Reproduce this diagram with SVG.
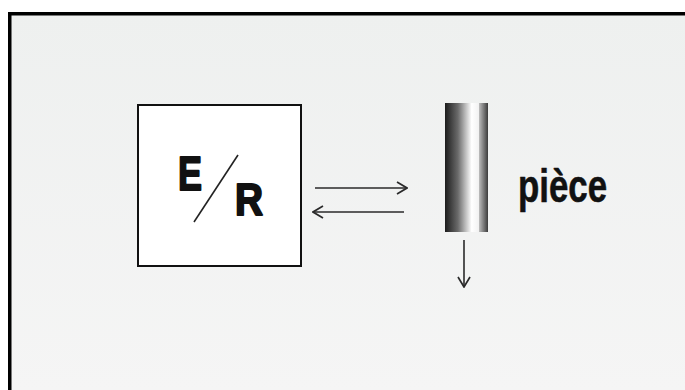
<svg xmlns="http://www.w3.org/2000/svg" width="685" height="390" viewBox="0 0 685 390">
  <defs>
    <linearGradient id="bg" x1="0" y1="0" x2="0" y2="1">
      <stop offset="0" stop-color="#eef0ef"/>
      <stop offset="1" stop-color="#f5f5f5"/>
    </linearGradient>
    <linearGradient id="bar" x1="0" y1="0" x2="1" y2="0">
      <stop offset="0" stop-color="#1c1c1c"/>
      <stop offset="0.3" stop-color="#6a6a6a"/>
      <stop offset="0.62" stop-color="#ffffff"/>
      <stop offset="0.78" stop-color="#f2f2f2"/>
      <stop offset="0.8" stop-color="#b8b8b8"/>
      <stop offset="1" stop-color="#3c3c3c"/>
    </linearGradient>
    <marker id="arr" viewBox="0 0 12 14" refX="11" refY="7" markerWidth="12" markerHeight="14" markerUnits="userSpaceOnUse" orient="auto">
      <path d="M1,1 L11,7 L1,13" fill="none" stroke="#2a2a2a" stroke-width="1.7"/>
    </marker>
  </defs>
  <style>
    .lbl { font-family: "Liberation Sans", Arial, sans-serif; font-weight: bold; fill: #111; stroke: #111; stroke-linejoin: round; }
    .conn { stroke: #2a2a2a; stroke-width: 1.6; fill: none; marker-end: url(#arr); }
  </style>
  <rect x="0" y="0" width="685" height="390" fill="#ffffff"/>
  <rect x="9" y="13" width="676" height="377" fill="url(#bg)"/>
  <path d="M9.75,390 V13.75 H685" fill="none" stroke="#000" stroke-width="3.5"/>

  <g id="node-er">
    <rect x="138" y="105" width="163" height="161" fill="#ffffff" stroke="#111" stroke-width="2"/>
    <text class="lbl" x="178" y="190" font-size="49" stroke-width="2" textLength="24" lengthAdjust="spacingAndGlyphs">E</text>
    <line x1="238" y1="155" x2="194" y2="222" stroke="#222" stroke-width="1.6"/>
    <text class="lbl" x="235" y="215" font-size="44" stroke-width="2" textLength="28" lengthAdjust="spacingAndGlyphs">R</text>
  </g>

  <g id="node-piece">
    <rect x="445" y="103" width="43" height="129" fill="url(#bar)"/>
    <text class="lbl" x="518" y="202" font-size="46" stroke-width="0.6" textLength="89" lengthAdjust="spacingAndGlyphs">pièce</text>
  </g>

  <g id="connectors">
    <line class="conn" x1="315" y1="188" x2="407" y2="188"/>
    <line class="conn" x1="404" y1="212" x2="313" y2="212"/>
    <line class="conn" x1="464" y1="240" x2="464" y2="287"/>
  </g>
</svg>
